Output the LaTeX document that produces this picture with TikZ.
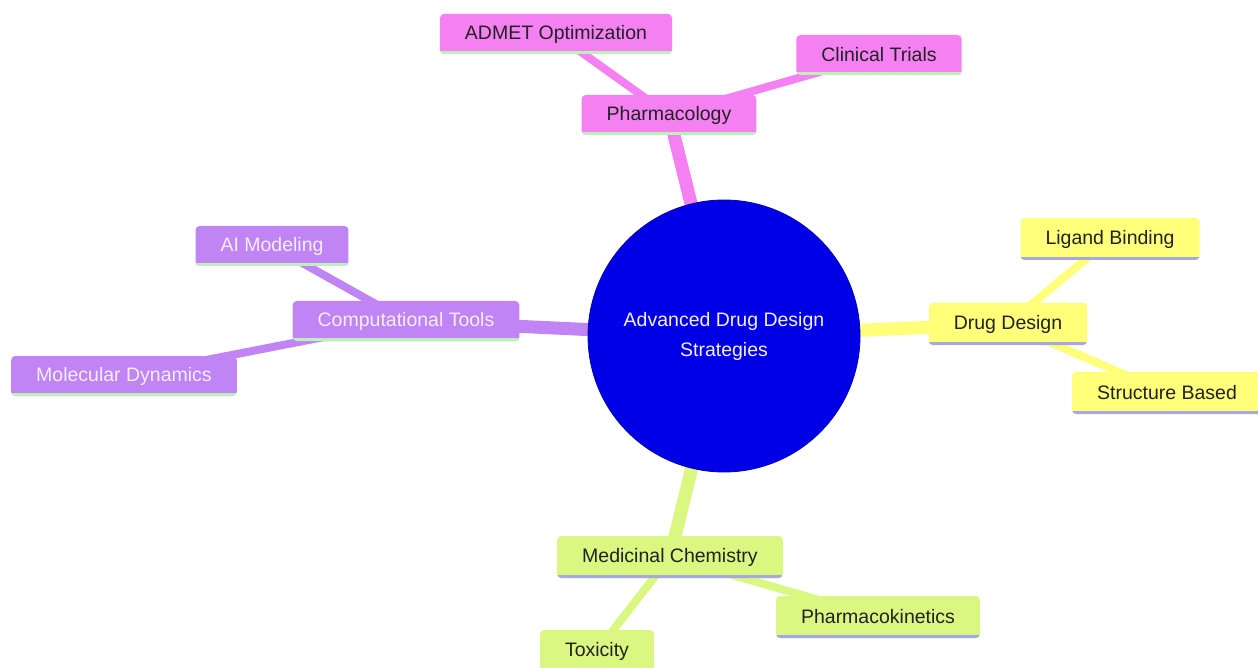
\documentclass[tikz,border=0pt]{standalone}
\usepackage{fontspec}
\setmainfont{Liberation Sans}
\definecolor{cpink}{HTML}{F580F2}
\definecolor{cpurple}{HTML}{C084F5}
\definecolor{cyellow}{HTML}{FFFF7A}
\definecolor{cgreen}{HTML}{D9F781}
\definecolor{ugreen}{HTML}{BDF0B8}
\definecolor{ublue}{HTML}{A8A8E0}
\definecolor{croot}{HTML}{0000E6}
\definecolor{dtext}{HTML}{222222}
\definecolor{ltext}{HTML}{F2EEFA}
\tikzset{
  mbox/.style={rectangle, rounded corners=4pt, inner xsep=25pt, minimum height=40pt,
    font=\fontsize{19.5}{23}\selectfont, text=dtext,
    path picture={\draw[line width=6pt,#1] (path picture bounding box.south west) -- (path picture bounding box.south east);}},
  pinkbox/.style={mbox=ugreen, fill=cpink},
  purplebox/.style={mbox=ugreen, fill=cpurple, text=ltext},
  yellowbox/.style={mbox=ublue, fill=cyellow},
  greenbox/.style={mbox=ublue, fill=cgreen},
  rootedge/.style={line width=13pt},
  childedge/.style={line width=8pt},
}
\begin{document}
\begin{tikzpicture}[x=1pt,y=-1pt]
\useasboundingbox (0,0) rectangle (1258,668);
% nodes (positions only, drawn after edges via layering)
\coordinate (rootc) at (724,336);
\coordinate (c-pharm) at (669,115);
\coordinate (c-admet) at (556,34);
\coordinate (c-clin) at (879,55);
\coordinate (c-comp) at (406,321);
\coordinate (c-ai) at (272,246);
\coordinate (c-md) at (124,376);
\coordinate (c-dd) at (1008,324);
\coordinate (c-lig) at (1110,239);
\coordinate (c-sb) at (1167,393);
\coordinate (c-mc) at (670,557);
\coordinate (c-pk) at (878,617);
\coordinate (c-tox) at (597,651);
% edges
\draw[rootedge,cpink] (rootc) -- (c-pharm);
\draw[rootedge,cpurple] (rootc) -- (c-comp);
\draw[rootedge,cyellow] (rootc) -- (c-dd);
\draw[rootedge,cgreen] (rootc) -- (c-mc);
\draw[childedge,cpink] (c-pharm) -- (c-admet);
\draw[childedge,cpink] (c-pharm) -- (c-clin);
\draw[childedge,cpurple] (c-comp) -- (c-ai);
\draw[childedge,cpurple] (c-comp) -- (c-md);
\draw[childedge,cyellow] (c-dd) -- (c-lig);
\draw[childedge,cyellow] (c-dd) -- (c-sb);
\draw[childedge,cgreen] (c-mc) -- (c-pk);
\draw[childedge,cgreen] (c-mc) -- (c-tox);
% root
\node[circle, fill=croot, draw=croot!80!black, line width=0.8pt, minimum size=272pt, inner sep=0pt,
  text=ltext, align=center, font=\fontsize{19.5}{30}\selectfont] (root) at (rootc)
  {Advanced Drug Design\\Strategies};
% boxes
\node[pinkbox] (pharm) at (c-pharm) {Pharmacology};
\node[pinkbox] (admet) at (c-admet) {ADMET Optimization};
\node[pinkbox] (clin) at (c-clin) {Clinical Trials};
\node[purplebox] (comp) at (c-comp) {Computational Tools};
\node[purplebox] (ai) at (c-ai) {AI Modeling};
\node[purplebox] (md) at (c-md) {Molecular Dynamics};
\node[yellowbox, minimum height=42pt] (dd) at (c-dd) {Drug Design};
\node[yellowbox, minimum height=42pt] (lig) at (c-lig) {Ligand Binding};
\node[yellowbox, minimum height=42pt] (sb) at (c-sb) {Structure Based};
\node[greenbox, minimum height=42pt] (mc) at (c-mc) {Medicinal Chemistry};
\node[greenbox, minimum height=42pt] (pk) at (c-pk) {Pharmacokinetics};
\node[greenbox, minimum height=42pt] (tox) at (c-tox) {Toxicity};
\end{tikzpicture}
\end{document}
